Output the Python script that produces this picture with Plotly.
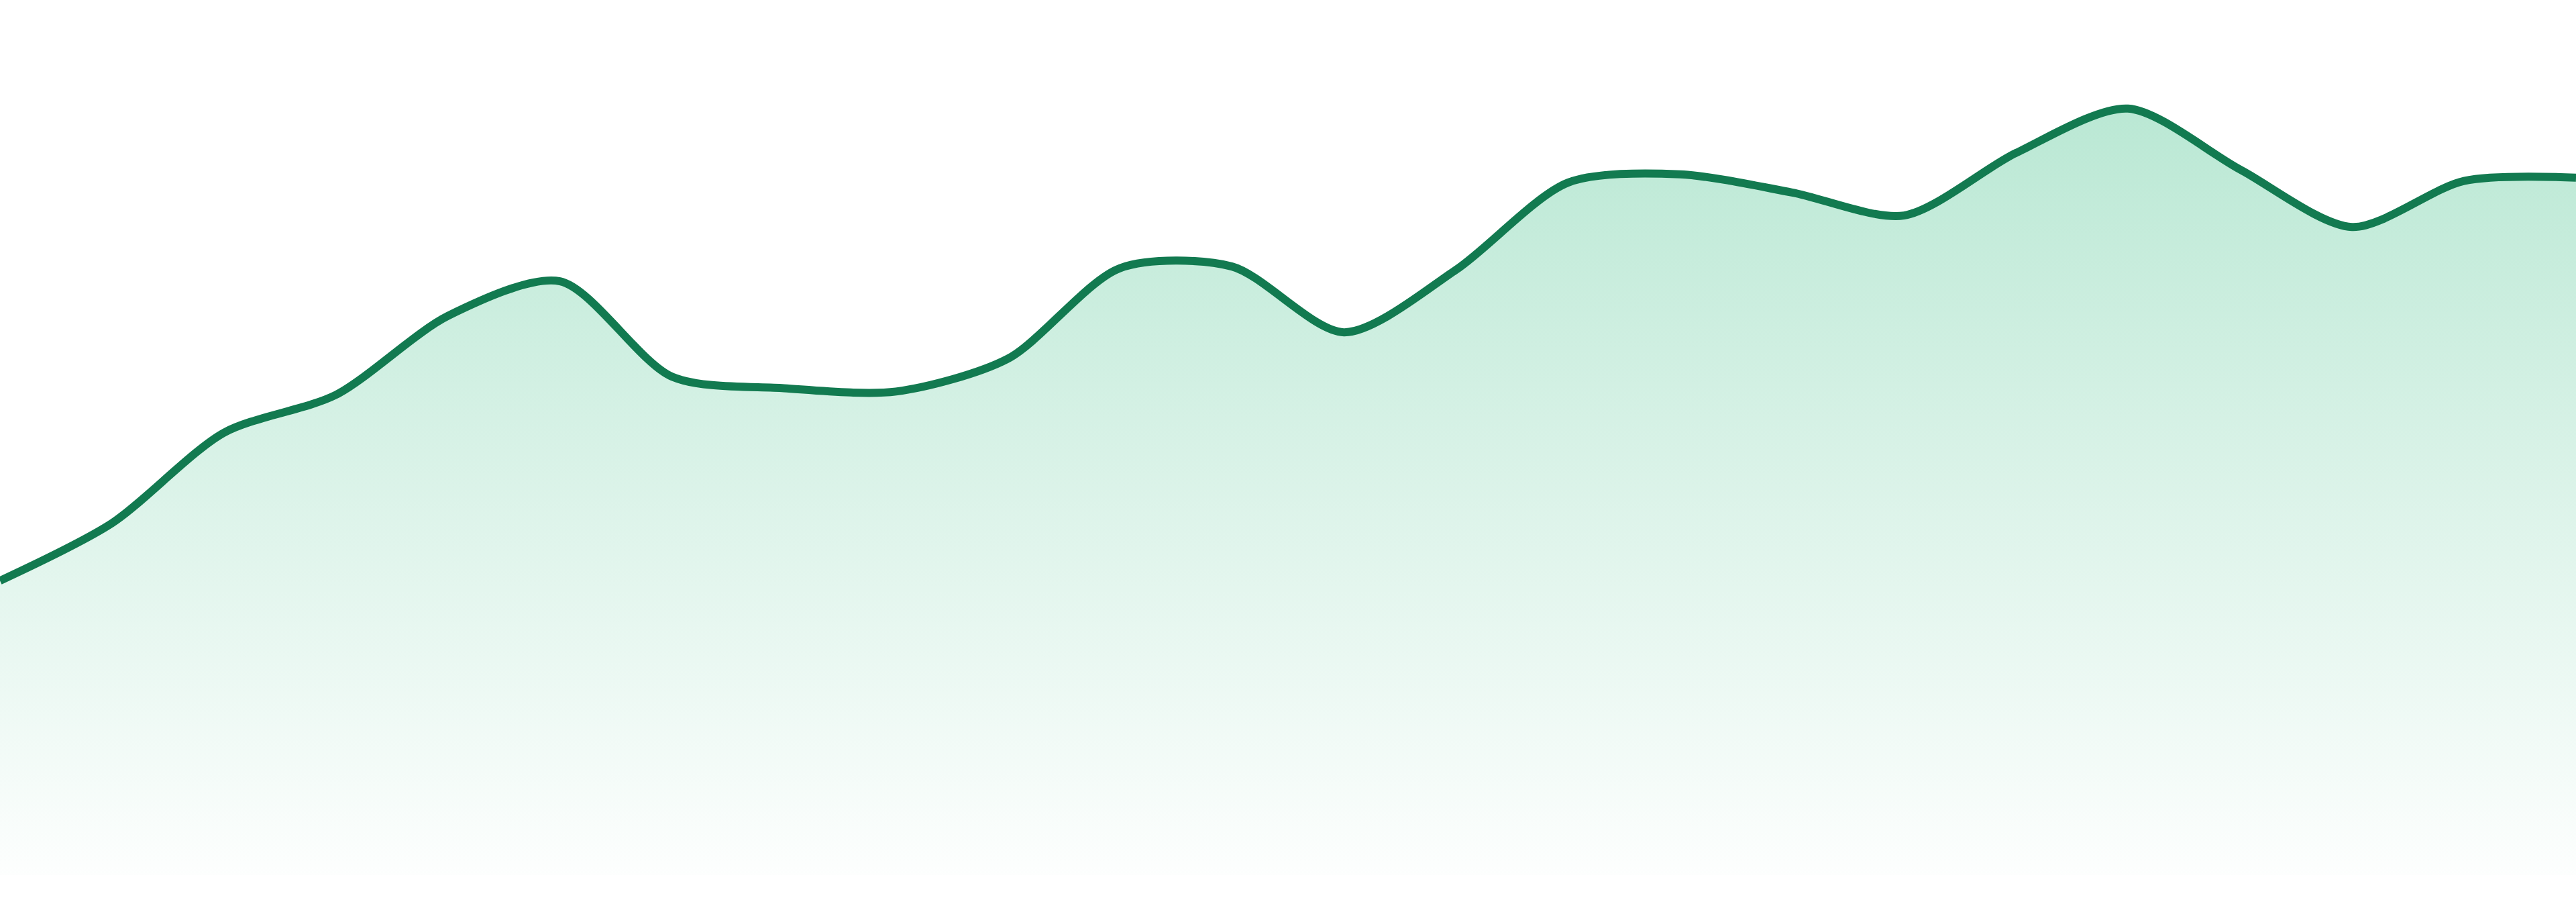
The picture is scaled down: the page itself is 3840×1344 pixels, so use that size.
import plotly.graph_objects as go

# values (24 evenly spaced points)
steps = list(range(24))
values = [179, 214, 269, 292, 340, 361, 303, 296, 294, 314, 369, 370,
          330, 368, 421, 426, 415, 401, 439, 466, 429, 394, 422, 424]

line_color = "#127a50"

fig = go.Figure()
fig.add_trace(go.Scatter(
    x=steps, y=values,
    mode="lines",
    line=dict(color=line_color, width=12, shape="spline", smoothing=0.8),
    fill="tozeroy",
    fillgradient=dict(
        type="vertical",
        start=0, stop=466,
        colorscale=[[0, "rgba(186,232,212,0.03)"], [1, "rgba(186,232,212,1)"]],
    ),
    hoverinfo="skip",
    showlegend=False,
))

fig.update_xaxes(visible=False, range=[0, 23])
fig.update_yaxes(visible=False, range=[0, 532])
fig.update_layout(
    width=3840, height=1344,
    margin=dict(l=0, r=0, t=0, b=40),
    plot_bgcolor="white", paper_bgcolor="white",
)

# drop the default page margin so the figure sits flush in the window
fig.write_html("out.html", config={"displayModeBar": False},
               post_script="document.body.style.margin='0';")
